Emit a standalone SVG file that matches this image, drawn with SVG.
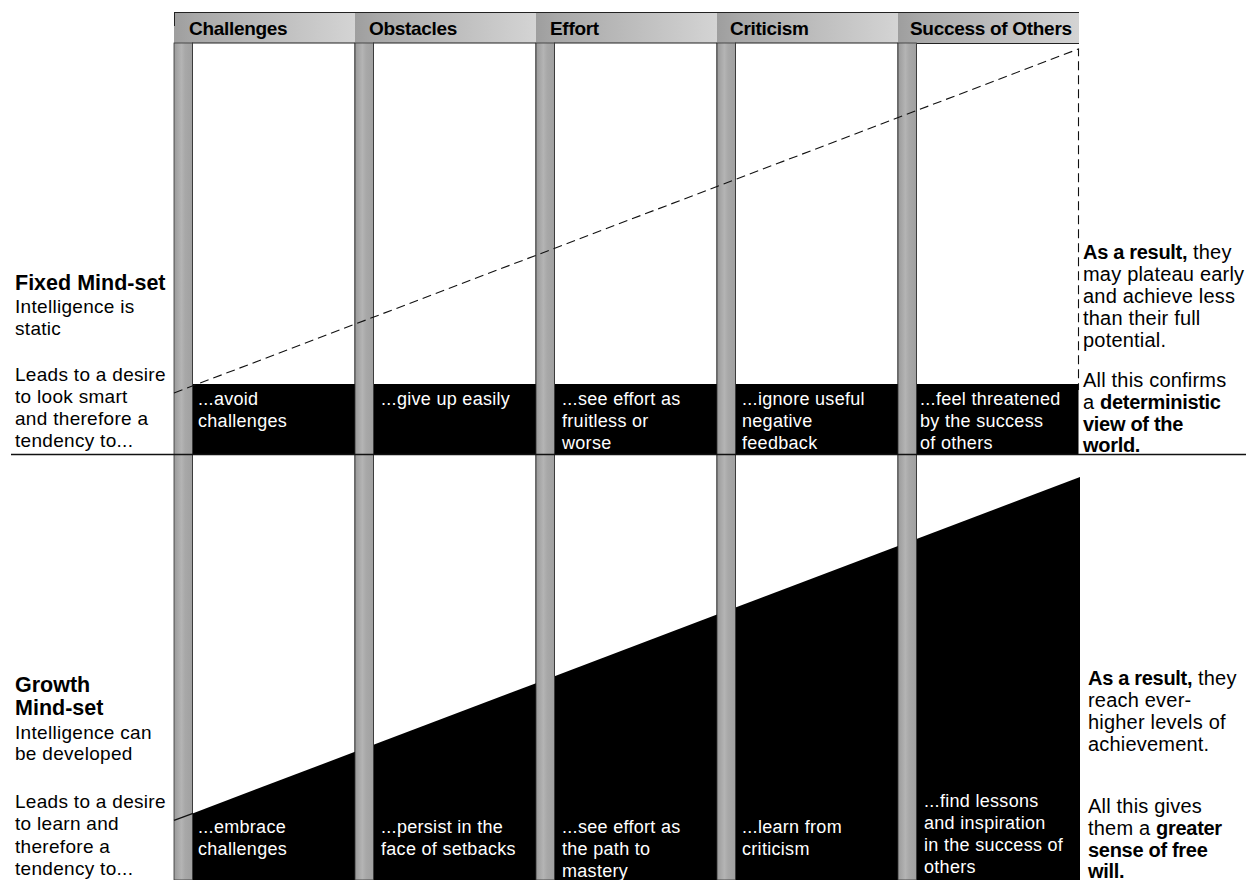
<svg xmlns="http://www.w3.org/2000/svg" width="1246" height="880" viewBox="0 0 1246 880">
<defs>
<linearGradient id="hdr" x1="0" y1="0" x2="1" y2="0">
<stop offset="0" stop-color="#9e9e9e"/>
<stop offset="0.12" stop-color="#a8a8a8"/>
<stop offset="1" stop-color="#d4d4d4"/>
</linearGradient>
<linearGradient id="bar" x1="0" y1="0" x2="1" y2="0">
<stop offset="0" stop-color="#9a9a9a"/>
<stop offset="0.4" stop-color="#b4b4b4"/>
<stop offset="0.6" stop-color="#a8a8a8"/>
<stop offset="1" stop-color="#a0a0a0"/>
</linearGradient>
</defs>
<style>
text{font-family:"Liberation Sans",Arial,sans-serif;}
.hd{font-size:19px;font-weight:bold;fill:#000;letter-spacing:-0.3px;}
.cell{fill:#fff;stroke:#222;stroke-width:1;}
.box{fill:#000;}
.bar{fill:url(#bar);stroke:#333;stroke-width:0.8;}
.bt{font-size:18px;fill:#fff;letter-spacing:0.3px;}
.lt{font-size:19px;fill:#000;letter-spacing:0.3px;}
.ttl{font-size:21.5px;font-weight:bold;fill:#000;}
.rt{font-size:20px;fill:#000;letter-spacing:0.2px;}
.b{font-weight:bold;letter-spacing:-0.3px;}
</style>
<rect width="1246" height="880" fill="#fff"/>

<g id="col-challenges">
<rect x="174" y="12" width="181" height="31" fill="url(#hdr)"/>
<rect class="cell" x="192.5" y="43" width="162.5" height="837"/>
<rect class="box" x="192.5" y="384" width="162.5" height="71"/>
<polygon class="box" points="192.5,813.4 355,751.8 355,880 192.5,880"/>
<rect class="bar" x="174" y="43" width="18.5" height="837"/>
<text class="hd" x="189" y="35">Challenges</text>
<text class="bt" x="198" y="405">...avoid</text>
<text class="bt" x="198" y="427">challenges</text>
<text class="bt" x="198" y="833">...embrace</text>
<text class="bt" x="198" y="855">challenges</text>
</g>

<g id="col-obstacles">
<rect x="355" y="12" width="181" height="31" fill="url(#hdr)"/>
<rect class="cell" x="373.5" y="43" width="162.5" height="837"/>
<rect class="box" x="373.5" y="384" width="162.5" height="71"/>
<polygon class="box" points="373.5,744.8 536,683.2 536,880 373.5,880"/>
<rect class="bar" x="355" y="43" width="18.5" height="837"/>
<text class="hd" x="369" y="35">Obstacles</text>
<text class="bt" x="381" y="405">...give up easily</text>
<text class="bt" x="381" y="833">...persist in the</text>
<text class="bt" x="381" y="855">face of setbacks</text>
</g>

<g id="col-effort">
<rect x="536" y="12" width="181" height="31" fill="url(#hdr)"/>
<rect class="cell" x="554.5" y="43" width="162.5" height="837"/>
<rect class="box" x="554.5" y="384" width="162.5" height="71"/>
<polygon class="box" points="554.5,676.2 717,614.6 717,880 554.5,880"/>
<rect class="bar" x="536" y="43" width="18.5" height="837"/>
<text class="hd" x="550" y="35">Effort</text>
<text class="bt" x="562" y="405">...see effort as</text>
<text class="bt" x="562" y="427">fruitless or</text>
<text class="bt" x="562" y="449">worse</text>
<text class="bt" x="562" y="833">...see effort as</text>
<text class="bt" x="562" y="855">the path to</text>
<text class="bt" x="562" y="877">mastery</text>
</g>

<g id="col-criticism">
<rect x="717" y="12" width="181" height="31" fill="url(#hdr)"/>
<rect class="cell" x="735.5" y="43" width="162.5" height="837"/>
<rect class="box" x="735.5" y="384" width="162.5" height="71"/>
<polygon class="box" points="735.5,607.6 898,546 898,880 735.5,880"/>
<rect class="bar" x="717" y="43" width="18.5" height="837"/>
<text class="hd" x="730" y="35">Criticism</text>
<text class="bt" x="742" y="405">...ignore useful</text>
<text class="bt" x="742" y="427">negative</text>
<text class="bt" x="742" y="449">feedback</text>
<text class="bt" x="742" y="833">...learn from</text>
<text class="bt" x="742" y="855">criticism</text>
</g>

<g id="col-success">
<rect x="898" y="12" width="181" height="31" fill="url(#hdr)"/>
<path d="M916.5,880 V43.5 H1079" fill="#fff" stroke="#222" stroke-width="1"/>
<rect class="box" x="916.5" y="384" width="162" height="71"/>
<polygon class="box" points="916.5,539 1080,477 1080,880 916.5,880"/>
<rect class="bar" x="898" y="43" width="18.5" height="837"/>
<text class="hd" x="910" y="35">Success of Others</text>
<text class="bt" x="920" y="405">...feel threatened</text>
<text class="bt" x="920" y="427">by the success</text>
<text class="bt" x="920" y="449">of others</text>
<text class="bt" x="924" y="807">...find lessons</text>
<text class="bt" x="924" y="829">and inspiration</text>
<text class="bt" x="924" y="851">in the success of</text>
<text class="bt" x="924" y="873">others</text>
</g>

<g id="connectors" fill="none">
<line x1="174" y1="12.5" x2="1079" y2="12.5" stroke="#222" stroke-width="1.2"/>
<line x1="174.5" y1="12" x2="174.5" y2="26" stroke="#222" stroke-width="1"/>
<line x1="11" y1="454.5" x2="1246" y2="454.5" stroke="#111" stroke-width="1.3"/>
<line x1="174" y1="820.4" x2="193" y2="813.3" stroke="#111" stroke-width="1.3"/>
<polyline points="174,393 1078.5,49 1078.5,390" stroke="#111" stroke-width="1.1" stroke-dasharray="9,5"/>
</g>

<g id="fixed-label">
<text class="ttl" x="15" y="290">Fixed Mind-set</text>
<text class="lt" x="15" y="313">Intelligence is</text>
<text class="lt" x="15" y="335">static</text>
<text class="lt" x="15" y="381">Leads to a desire</text>
<text class="lt" x="15" y="403">to look smart</text>
<text class="lt" x="15" y="425">and therefore a</text>
<text class="lt" x="15" y="447">tendency to...</text>
</g>

<g id="growth-label">
<text class="ttl" x="15" y="692">Growth</text>
<text class="ttl" x="15" y="715">Mind-set</text>
<text class="lt" x="15" y="739">Intelligence can</text>
<text class="lt" x="15" y="760">be developed</text>
<text class="lt" x="15" y="808">Leads to a desire</text>
<text class="lt" x="15" y="830">to learn and</text>
<text class="lt" x="15" y="853">therefore a</text>
<text class="lt" x="15" y="875">tendency to...</text>
</g>

<g id="fixed-result">
<text class="rt" x="1083" y="259"><tspan class="b">As a result,</tspan> they</text>
<text class="rt" x="1083" y="281">may plateau early</text>
<text class="rt" x="1083" y="303">and achieve less</text>
<text class="rt" x="1083" y="325">than their full</text>
<text class="rt" x="1083" y="347">potential.</text>
<text class="rt" x="1083" y="387">All this confirms</text>
<text class="rt" x="1083" y="409">a <tspan class="b">deterministic</tspan></text>
<text class="rt b" x="1083" y="431">view of the</text>
<text class="rt b" x="1083" y="452">world.</text>
</g>

<g id="growth-result">
<text class="rt" x="1088" y="685"><tspan class="b">As a result,</tspan> they</text>
<text class="rt" x="1088" y="707">reach ever-</text>
<text class="rt" x="1088" y="729">higher levels of</text>
<text class="rt" x="1088" y="751">achievement.</text>
<text class="rt" x="1088" y="813">All this gives</text>
<text class="rt" x="1088" y="835">them a <tspan class="b">greater</tspan></text>
<text class="rt b" x="1088" y="857">sense of free</text>
<text class="rt b" x="1088" y="878">will.</text>
</g>
</svg>
